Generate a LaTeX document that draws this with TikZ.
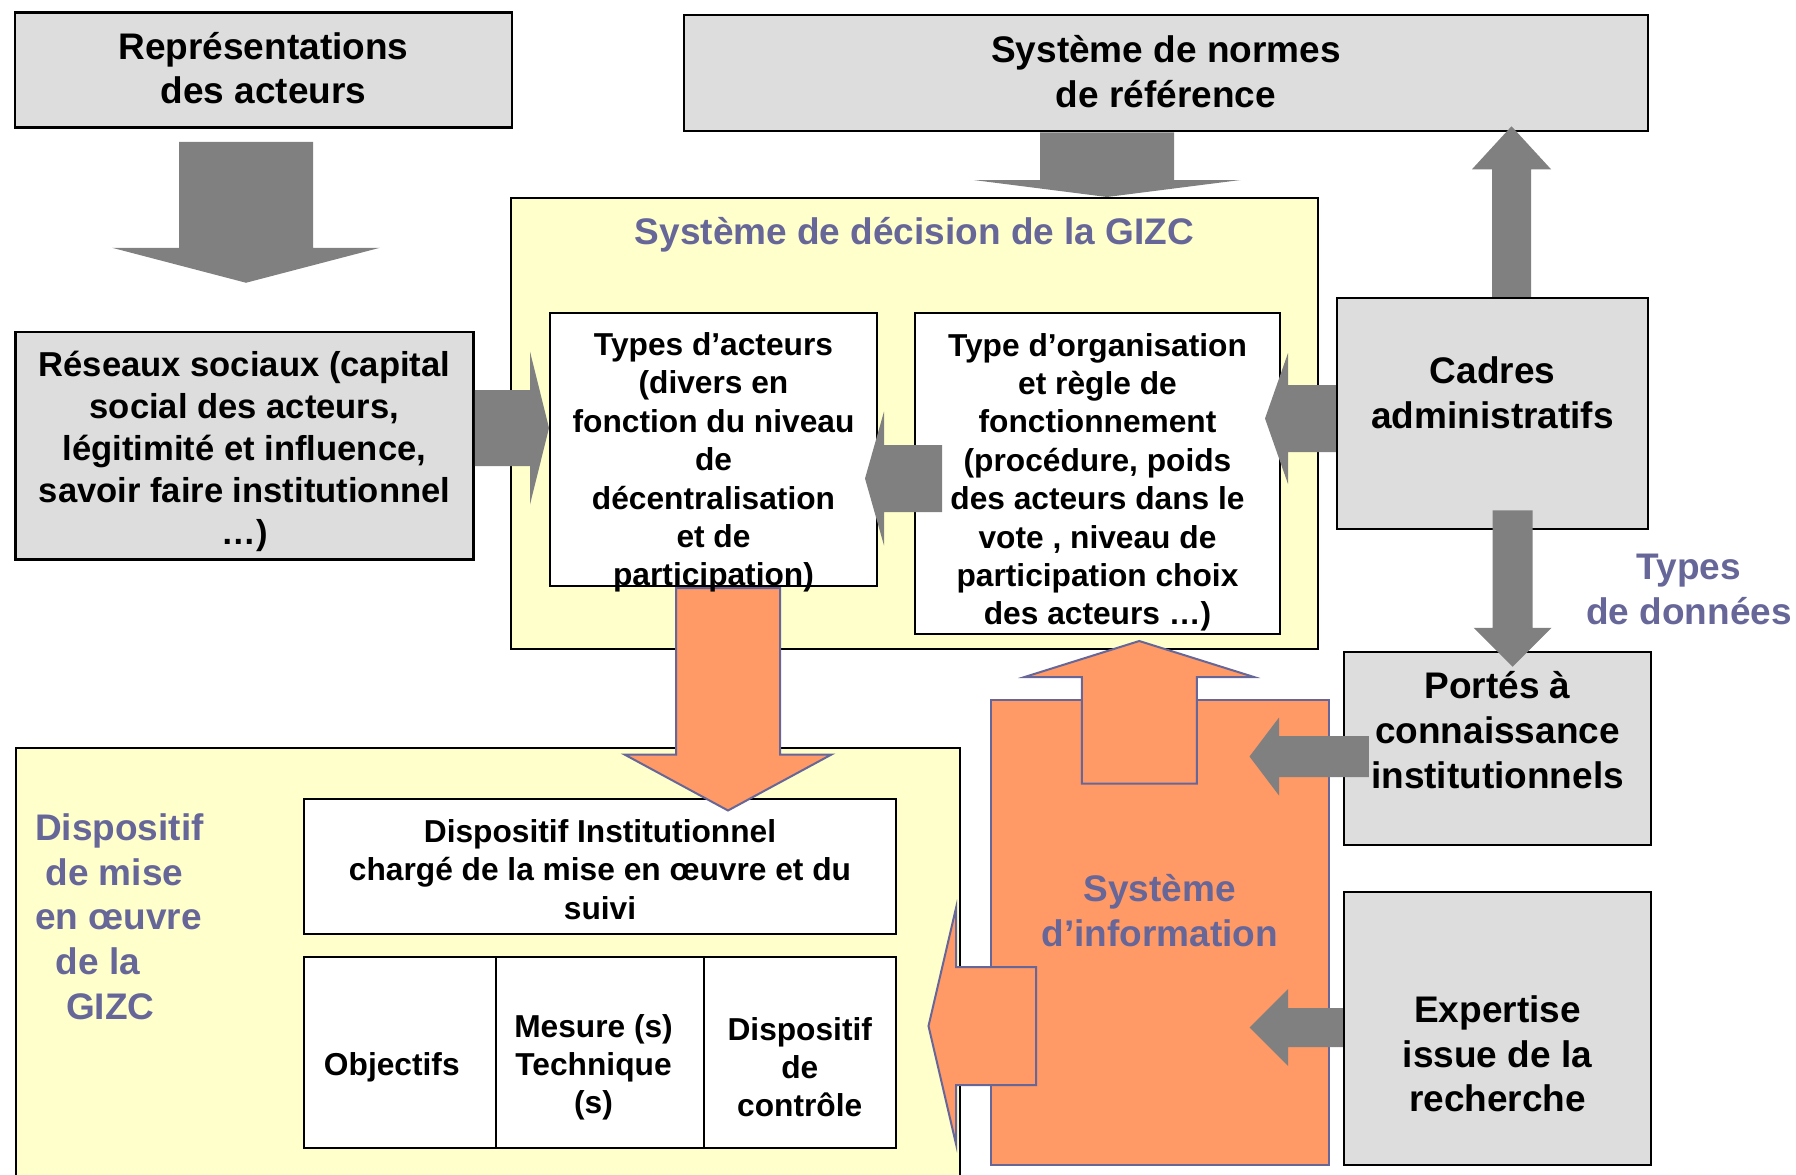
\documentclass[tikz,border=0pt]{standalone}
\usepackage{fontspec}
\setmainfont{Liberation Sans}
\usetikzlibrary{calc}

\definecolor{boxgray}{HTML}{DDDDDD}
\definecolor{arrowgray}{HTML}{808080}
\definecolor{paleyellow}{HTML}{FFFFCC}
\definecolor{infoorange}{HTML}{FF9966}
\definecolor{titleblue}{HTML}{666699}

\newcommand{\bigtxt}{\bfseries\fontsize{37}{44.7}\selectfont}
\newcommand{\midtxt}{\bfseries\fontsize{34.6}{42}\selectfont}
\newcommand{\smalltxt}{\bfseries\fontsize{31.7}{38.4}\selectfont}

% block arrow: style, from, to, half shaft, half head, head length
\newcommand{\blockarrow}[6]{%
	\coordinate (hb) at ($(#3)!#6!(#2)$);
	\path[#1] ($(#2)!#4!90:(#3)$) -- ($(hb)!#4!90:(#3)$) -- ($(hb)!#5!90:(#3)$) -- (#3)
		-- ($(hb)!#5!-90:(#3)$) -- ($(hb)!#4!-90:(#3)$) -- ($(#2)!#4!-90:(#3)$) -- cycle;
}

\tikzset{
	graybox/.style={draw=black, line width=2.5pt, fill=boxgray, inner sep=0pt, align=center, font=\bigtxt},
	yellowbox/.style={draw=black, line width=2pt, fill=paleyellow, inner sep=0pt},
	whitebox/.style={draw=black, line width=2pt, fill=white, inner sep=0pt, align=center, font=\smalltxt},
	infobox/.style={draw=titleblue, line width=2pt, fill=infoorange, inner sep=0pt},
	grayarrow/.style={fill=arrowgray},
	orangearrow/.style={fill=infoorange, draw=titleblue, line width=2pt},
	bluetitle/.style={text=titleblue, font=\bigtxt, align=center, inner sep=0pt},
	boxtext/.style={align=center, inner sep=0pt}
}

\begin{document}
\begin{tikzpicture}[x=1pt, y=-1pt]
	%\draw[help lines] (0,0) grid (1796,1175);
	\clip (0,0) rectangle (1796,1175);

	\node[yellowbox, minimum width=807pt, minimum height=451pt] (dec) at (914.5,423.5) {};
	\node[yellowbox, minimum width=944pt, minimum height=452pt] (dm) at (488,974) {};

	\node[graybox, minimum width=497pt, minimum height=115pt] (rep) at (263.5,70) {};
	\node[graybox, minimum width=964pt, minimum height=116pt] (norm) at (1166,73) {};
	\node[graybox, minimum width=458pt, minimum height=227.5pt] (res) at (244.5,445.75) {};
	\node[graybox, minimum width=311pt, minimum height=231pt] (cad) at (1492.5,413.5) {};
	\node[graybox, minimum width=307pt, minimum height=193pt] (por) at (1497.5,748.5) {};
	\node[graybox, minimum width=307pt, minimum height=273pt] (exp) at (1497.5,1028.5) {};
	\node[infobox, minimum width=337.5pt, minimum height=465pt] (si) at (1159.75,932.5) {};

	\node[whitebox, minimum width=327pt, minimum height=273pt] (ta) at (713.5,449.5) {};
	\node[whitebox, minimum width=365pt, minimum height=321.5pt] (to) at (1097.5,473.25) {};
	\node[whitebox, minimum width=592pt, minimum height=135pt] (di) at (600,866.5) {};
	\node[whitebox, minimum width=191.6pt, minimum height=191.5pt] (obj) at (399.8,1052.25) {};
	\node[whitebox, minimum width=207.9pt, minimum height=191.5pt] (mes) at (599.55,1052.25) {};
	\node[whitebox, minimum width=192.5pt, minimum height=191.5pt] (ctl) at (799.75,1052.25) {};

	\coordinate (repout) at ($(rep.south -| res.north)+(1.5,13)$);
	\coordinate (resin) at ($(res.north)+(1.5,-48)$);
	\coordinate (resout) at ($(res.east)+(0,-17.75)$);
	\coordinate (tain) at (ta.west |- resout);
	\coordinate (toout) at ($(to.west)+(28,5.25)$);
	\coordinate (taright) at ($(ta.east |- toout)+(-13,0)$);
	\coordinate (cadleft) at ($(cad.west)+(0,5)$);
	\coordinate (toin) at ($(to.east |- cadleft)+(-16,0)$);
	\coordinate (normout) at ($(norm.south)+(-59,0)$);
	\coordinate (decin) at (normout |- dec.north);
	\coordinate (cadup) at ($(cad.north)+(19,0)$);
	\coordinate (normin) at ($(cadup |- norm.south)+(0,-6)$);
	\coordinate (caddown) at ($(cad.south)+(20,-20)$);
	\coordinate (porin) at ($(caddown |- por.north)+(0,16)$);
	\coordinate (porout) at ($(por.west)+(26,8)$);
	\coordinate (siporin) at ($(si.east |- porout)+(-80,0)$);
	\coordinate (expout) at ($(exp.west)+(0,-1)$);
	\coordinate (siexpin) at ($(si.east |- expout)+(-80,0)$);
	\coordinate (taout) at ($(ta.south)+(14.5,1)$);
	\coordinate (diin) at ($(taout |- di.north)+(0,12.5)$);
	\coordinate (siup) at ($(si.north)+(-20.5,84.5)$);
	\coordinate (tobottom) at ($(siup |- to.south)+(0,6)$);
	\coordinate (sileft) at ($(si.west)+(46,93.5)$);
	\coordinate (dmin) at ($(dm.east |- sileft)+(-32.5,0)$);

	\blockarrow{grayarrow}{repout}{resin}{67pt}{134pt}{35pt}
	\blockarrow{grayarrow}{resout}{tain}{38pt}{76.5pt}{19pt}
	\blockarrow{grayarrow}{toout}{taright}{33.5pt}{67pt}{19pt}
	\blockarrow{grayarrow}{cadleft}{toin}{33.5pt}{65.5pt}{23pt}
	\blockarrow{grayarrow}{normout}{decin}{67pt}{133.5pt}{17pt}
	\blockarrow{grayarrow}{cadup}{normin}{19.5pt}{39.5pt}{43pt}
	\blockarrow{grayarrow}{caddown}{porin}{20pt}{39pt}{39pt}
	\blockarrow{grayarrow}{porout}{siporin}{20.5pt}{39pt}{29.5pt}
	\blockarrow{grayarrow}{expout}{siexpin}{19.5pt}{38.5pt}{38.5pt}
	\blockarrow{orangearrow}{taout}{diin}{52pt}{103.5pt}{56pt}
	\blockarrow{orangearrow}{siup}{tobottom}{57.5pt}{114.7pt}{36pt}
	\blockarrow{orangearrow}{sileft}{dmin}{59pt}{118pt}{27.5pt}

	\node[boxtext, font=\bigtxt] (reptxt) at ($(rep)+(0,-2)$) {Représentations\\des acteurs};
	\node[boxtext, font=\bigtxt] (normtxt) at ($(norm)+(0,-1.5)$) {Système de normes\\de référence};
	\node[boxtext, font=\midtxt] (restxt) at ($(res)+(0,6)$)
		{Réseaux sociaux (capital\\social des acteurs,\\légitimité et influence,\\savoir faire institutionnel\\…)};
	\node[boxtext, font=\bigtxt] (cadtxt) at ($(cad)+(0,-20.5)$) {Cadres\\administratifs};
	\node[boxtext, font=\bigtxt] (portxt) at ($(por)+(0,-18.5)$) {Portés à\\connaissance\\institutionnels};
	\node[boxtext, font=\bigtxt] (exptxt) at ($(exp)+(0,25.5)$) {Expertise\\issue de la\\recherche};
	\node[boxtext, font=\smalltxt] (tatxt) at ($(ta)+(0,13)$)
		{Types d’acteurs\\(divers en\\fonction du niveau\\de\\décentralisation\\et de\\participation)};
	\node[boxtext, font=\smalltxt] (totxt) at ($(to)+(0,9)$)
		{Type d’organisation\\et règle de\\fonctionnement\\(procédure, poids\\des acteurs dans le\\vote , niveau de\\participation choix\\des acteurs …)};
	\node[boxtext, font=\smalltxt] (ditxt) at ($(di)+(0,3)$)
		{Dispositif Institutionnel\\chargé de la mise en œuvre et du\\suivi};
	\node[boxtext, font=\smalltxt] (objtxt) at ($(obj)+(-8,15)$) {Objectifs};
	\node[boxtext, font=\smalltxt] (mestxt) at ($(mes)+(-6,15)$) {Mesure (s)\\Technique\\(s)};
	\node[boxtext, font=\smalltxt] (ctltxt) at ($(ctl)+(0,15)$) {Dispositif\\de\\contrôle};

	\node[bluetitle] (dectitle) at ($(dec.north)+(0,38)$) {Système de décision de la GIZC};
	\node[bluetitle] (sititle) at ($(si)+(0,-22)$) {Système\\d’information};
	\node[bluetitle] (types) at (1689,589.5) {Types\\de données};
	\node[bluetitle, align=left, anchor=west] (dmtitle) at (35,916.5)
		{Dispositif\\\hspace*{10.3pt}de mise\\en œuvre\\\hspace*{20.6pt}de la\\\hspace*{30.9pt}GIZC};
\end{tikzpicture}
\end{document}
